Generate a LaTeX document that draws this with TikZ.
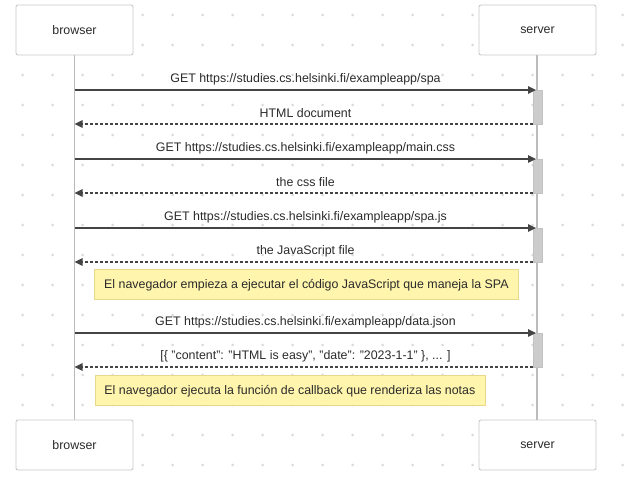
\documentclass[tikz,border=0pt]{standalone}
\usepackage{fontspec}
\setmainfont{Liberation Sans}
\usetikzlibrary{arrows.meta}
\definecolor{dotc}{HTML}{DADADA}
\definecolor{boxline}{HTML}{C8C8C8}
\definecolor{lifec}{HTML}{BBBBBB}
\definecolor{actfill}{HTML}{CCCCCC}
\definecolor{actline}{HTML}{C2C2C2}
\definecolor{msgc}{HTML}{444444}
\definecolor{txtc}{HTML}{2A2A2A}
\definecolor{notefill}{HTML}{FFF5AD}
\definecolor{noteline}{HTML}{E8D98A}
\newcommand{\qq}{\symbol{34}}
\tikzset{
  actor/.style={draw=boxline, fill=white, rounded corners=2pt, line width=0.9pt,
    minimum width=117pt, minimum height=50pt, inner sep=0pt, text=txtc, font=\fontsize{12.4}{14}\selectfont},
  lifeline/.style={draw=lifec, line width=1.2pt},
  activation/.style={draw=actline, fill=actfill, line width=0.6pt, minimum width=9pt, inner sep=0pt, anchor=north},
  req/.style={draw=msgc, line width=1.4pt, -{Triangle[length=8pt,width=7.5pt]}},
  resp/.style={draw=msgc, line width=1.1pt, dash pattern=on 3pt off 2pt, -{Triangle[length=8pt,width=7.5pt]}},
  msglabel/.style={text=txtc, font=\fontsize{12.4}{14}\selectfont, inner sep=0pt},
  notebox/.style={draw=noteline, fill=notefill, line width=0.8pt, text=txtc,
    font=\fontsize{12.4}{14}\selectfont, inner sep=0pt, anchor=north west}
}
\begin{document}
\begin{tikzpicture}[x=1pt,y=-1pt]
\useasboundingbox (0,0) rectangle (624,486);
% dot grid
\foreach \i in {0,...,20}{
  \foreach \j in {0,...,15}{
    \fill[dotc] ({22.7+30*\i},{15+30*\j}) circle (1.5pt);
  }
}
% lifelines
\draw[lifeline] (74.5,55) coordinate (btop) -- (74.5,420) coordinate (bbot);
\draw[lifeline] (537,55) coordinate (stop) -- (537,420) coordinate (sbot);
% actor boxes
\node[actor] (browserTop) at (74.5,30) {browser};
\node[actor] (serverTop) at (537.5,30) {server};
\node[actor] (browserBot) at (74.5,445) {browser};
\node[actor] (serverBot) at (537.5,445) {server};
% activations
\node[activation, minimum height=34pt] (act1) at (537.5,90) {};
\node[activation, minimum height=34pt] (act2) at (537.5,159) {};
\node[activation, minimum height=34pt] (act3) at (537.5,228) {};
\node[activation, minimum height=34pt] (act4) at (537.5,333) {};
% message coordinates
\foreach \n/\y in {1/90,2/124,3/159,4/193,5/228,6/262,7/333,8/367}{
  \coordinate (b\n) at (74.5,\y);
  \coordinate (s\n) at (533,\y);
  \coordinate (t\n) at (536,\y);
}
% messages
\draw[req] (b1) -- (t1);
\node[msglabel] (m1) at (305.5,79) {GET https://studies.cs.helsinki.fi/exampleapp/spa};
\draw[resp] (s2) -- (b2);
\node[msglabel] (m2) at (305.5,113.5) {HTML document};
\draw[req] (b3) -- (t3);
\node[msglabel] (m3) at (305.5,148.5) {GET https://studies.cs.helsinki.fi/exampleapp/main.css};
\draw[resp] (s4) -- (b4);
\node[msglabel] (m4) at (305.5,182.5) {the css file};
\draw[req] (b5) -- (t5);
\node[msglabel] (m5) at (305.5,217.5) {GET https://studies.cs.helsinki.fi/exampleapp/spa.js};
\draw[resp] (s6) -- (b6);
\node[msglabel] (m6) at (305.5,251.5) {the JavaScript file};
\node[notebox, minimum width=424pt, minimum height=29.5pt] (note1) at (94,269.5) {};
\node[msglabel] (n1) at ([yshift=-1pt]note1.center) {El navegador empieza a ejecutar el código JavaScript que maneja la SPA};
\draw[req] (b7) -- (t7);
\node[msglabel] (m7) at (305.5,322.5) {GET https://studies.cs.helsinki.fi/exampleapp/data.json};
\draw[resp] (s8) -- (b8);
\node[msglabel] (m8) at (305.5,356.5) {[\{ \qq content\qq: \qq HTML is easy\qq, \qq date\qq: \qq 2023-1-1\qq\ \}, ... ]};
\node[notebox, minimum width=390pt, minimum height=29.5pt] (note2) at (94.5,375) {};
\node[msglabel] (n2) at ([yshift=-1pt]note2.center) {El navegador ejecuta la función de callback que renderiza las notas};
\end{tikzpicture}
\end{document}
